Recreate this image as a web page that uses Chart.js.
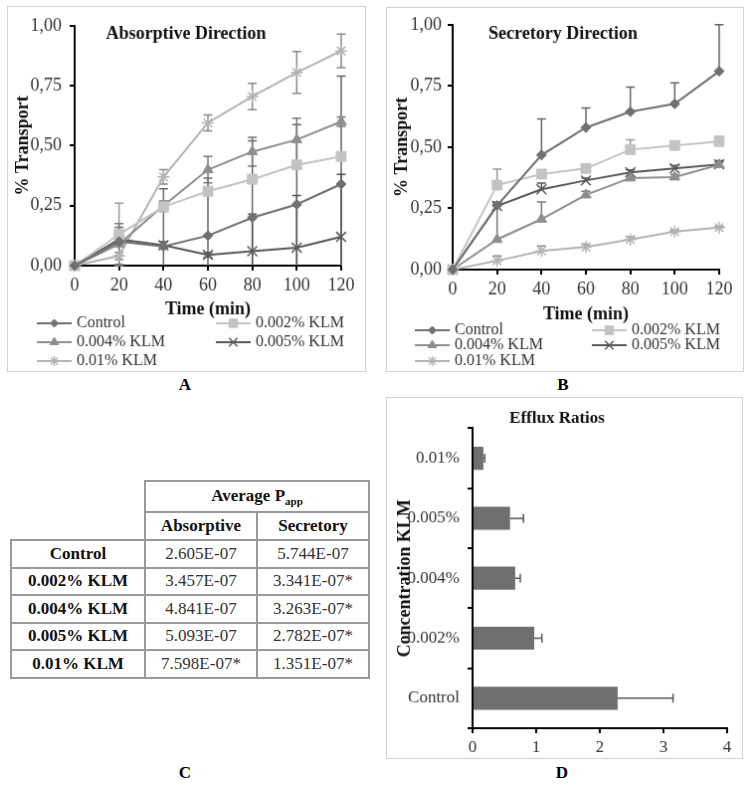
<!DOCTYPE html>
<html>
<head>
<meta charset="utf-8">
<title>KLM transport</title>
<script src="https://cdn.jsdelivr.net/npm/chart.js@4.4.1/dist/chart.umd.min.js"></script>
<style>
  body { margin: 0; background: #fff; font-family: "Liberation Serif", "Times New Roman", serif; }
  canvas { position: absolute; border: 1px solid #d2d2d2; }
  .tag { position: absolute; width: 30px; margin-left: -15px; text-align: center; font-weight: bold; font-size: 17px; line-height: 18px; }
  #papp { position: absolute; left: 10px; top: 480px; border-collapse: collapse; table-layout: fixed; width: 358px; font-size: 17px; color: #333; }
  #papp td, #papp th { border: 2px solid #9a9a9a; text-align: center; padding: 0; }
  #papp th { color: #111; }
  #papp td.lab { font-weight: bold; color: #111; }
  #papp .blank { border: none !important; }
  #papp sub { font-size: 11px; }
</style>
</head>
<body>
<canvas id="chartA" width="359" height="366" style="left:7px;top:6px"></canvas>
<canvas id="chartB" width="358" height="365" style="left:386px;top:7px"></canvas>
<canvas id="chartD" width="357" height="362" style="left:386px;top:397px"></canvas>
<div class="tag" style="left:185px;top:376px">A</div>
<div class="tag" style="left:563px;top:376px">B</div>
<div class="tag" style="left:185px;top:764px">C</div>
<div class="tag" style="left:562px;top:764px">D</div>
<table id="papp"></table>
<script>
const FONT = '"Liberation Serif", "Times New Roman", serif';

// sampling times (min) and series names
const times = [0, 20, 40, 60, 80, 100, 120];
const seriesNames = ['Control', '0.002% KLM', '0.004% KLM', '0.005% KLM', '0.01% KLM'];

// A - absorptive direction, % transport
const absControl = [0, 0.10, 0.08, 0.125, 0.20, 0.255, 0.34];
const absKlm002 = [0, 0.13, 0.245, 0.31, 0.36, 0.42, 0.455];
const absKlm004 = [0, 0.09, 0.25, 0.40, 0.475, 0.525, 0.60];
const absKlm005 = [0, 0.11, 0.085, 0.045, 0.06, 0.075, 0.12];
const absKlm01 = [0, 0.04, 0.37, 0.595, 0.705, 0.805, 0.895];
// A - error (sd)
const absErrControl = [0, 0.06, 0.24, 0.24, 0.32, 0.333, 0.45];
const absErrKlm002 = [0, 0.13, 0.02, 0.01, 0.01, 0.01, 0.01];
const absErrKlm004 = [0, 0.085, 0.02, 0.055, 0.06, 0.09, 0.02];
const absErrKlm005 = [0, 0.01, 0.015, 0.01, 0.155, 0.217, 0.26];
const absErrKlm01 = [0, 0.015, 0.03, 0.033, 0.055, 0.087, 0.07];

// B - secretory direction, % transport
const secControl = [0, 0.262, 0.468, 0.58, 0.645, 0.677, 0.81];
const secKlm002 = [0, 0.345, 0.39, 0.413, 0.49, 0.507, 0.523];
const secKlm004 = [0, 0.123, 0.206, 0.305, 0.374, 0.378, 0.428];
const secKlm005 = [0, 0.26, 0.328, 0.364, 0.397, 0.413, 0.43];
const secKlm01 = [0, 0.036, 0.076, 0.092, 0.123, 0.155, 0.172];
// B - error (sd, plus only)
const secErrControl = [0, 0.01, 0.147, 0.08, 0.10, 0.086, 0.19];
const secErrKlm002 = [0, 0.065, 0.005, 0.005, 0.04, 0.01, 0.02];
const secErrKlm004 = [0, 0.145, 0.07, 0.015, 0.01, 0.01, 0.01];
const secErrKlm005 = [0, 0.015, 0.025, 0.01, 0.01, 0.012, 0.015];
const secErrKlm01 = [0, 0.02, 0.02, 0.012, 0.01, 0.005, 0.005];

// C - average Papp table
const papRows = ['Control', '0.002% KLM', '0.004% KLM', '0.005% KLM', '0.01% KLM'];
const papAbsorptive = ['2.605E-07', '3.457E-07', '4.841E-07', '5.093E-07', '7.598E-07*'];
const papSecretory = ['5.744E-07', '3.341E-07*', '3.263E-07*', '2.782E-07*', '1.351E-07*'];

// D - efflux ratios
const effluxLabels = ['Control', '0.002%', '0.004%', '0.005%', '0.01%'];
const effluxRatio = [2.28, 0.97, 0.67, 0.59, 0.17];
const effluxError = [0.87, 0.12, 0.08, 0.21, 0.02];

const styles = [
  { color: '#707070', err: '#666666', pointStyle: 'rectRot', radius: 5 },
  { color: '#c3c3c3', err: '#9a9a9a', pointStyle: 'rect', radius: 7 },
  { color: '#8e8e8e', err: '#777777', pointStyle: 'triangle', radius: 6 },
  { color: '#595959', err: '#555555', pointStyle: 'crossRot', radius: 7 },
  { color: '#b3b3b3', err: '#8a8a8a', pointStyle: 'star', radius: 6 }
];

function makeSets(valueLists, errLists) {
  return valueLists.map((vals, k) => {
    const st = styles[k];
    const open = st.pointStyle === 'crossRot' || st.pointStyle === 'star';
    return {
      label: seriesNames[k],
      data: times.map((t, i) => ({ x: t, y: vals[i] })),
      errors: errLists[k],
      errorColor: st.err,
      borderColor: st.color,
      backgroundColor: st.color,
      pointBackgroundColor: st.color,
      pointBorderColor: st.color,
      pointStyle: st.pointStyle,
      pointRadius: st.radius,
      pointBorderWidth: open ? 1.5 : 1,
      borderWidth: 2,
      tension: 0,
      clip: false
    };
  });
}

const errorBars = {
  id: 'errorBars',
  beforeDatasetsDraw(chart, args, o) {
    const ctx = chart.ctx;
    const horiz = chart.options.indexAxis === 'y';
    const vScale = horiz ? chart.scales.x : chart.scales.y;
    const c = (o.cap || 8) / 2;
    ctx.save();
    ctx.lineWidth = 1.5;
    chart.data.datasets.forEach((ds, k) => {
      if (!ds.errors) return;
      const meta = chart.getDatasetMeta(k);
      ctx.strokeStyle = ds.errorColor || ds.borderColor;
      meta.data.forEach((el, i) => {
        const e = ds.errors[i];
        if (!e) return;
        const raw = ds.data[i];
        const v = typeof raw === 'object' ? raw.y : raw;
        const ends = o.both ? [v + e, v - e] : [v + e];
        ends.forEach(end => {
          const clipped = end < vScale.min;
          const p = vScale.getPixelForValue(Math.max(end, vScale.min));
          ctx.beginPath();
          if (horiz) {
            ctx.moveTo(el.x, el.y); ctx.lineTo(p, el.y);
            if (!clipped) { ctx.moveTo(p, el.y - c); ctx.lineTo(p, el.y + c); }
          } else {
            ctx.moveTo(el.x, el.y); ctx.lineTo(el.x, p);
            if (!clipped) { ctx.moveTo(el.x - c, p); ctx.lineTo(el.x + c, p); }
          }
          ctx.stroke();
        });
      });
    });
    ctx.restore();
  }
};

const innerTitle = {
  id: 'innerTitle',
  afterDraw(chart, args, o) {
    if (!o.text) return;
    const ctx = chart.ctx;
    ctx.save();
    ctx.font = 'bold 18px ' + FONT;
    ctx.fillStyle = '#111';
    ctx.textAlign = 'center';
    ctx.textBaseline = 'middle';
    ctx.fillText(o.text, o.x, o.y);
    ctx.restore();
  }
};

// two-column legend drawn under the x axis title
const panelLegend = {
  id: 'panelLegend',
  afterDraw(chart, args, o) {
    if (!o.cols) return;
    const ctx = chart.ctx;
    ctx.save();
    chart.data.datasets.forEach((ds, k) => {
      const x = o.cols[k % 2];
      const y = o.rows[Math.floor(k / 2)];
      ctx.strokeStyle = ds.borderColor;
      ctx.lineWidth = 2;
      ctx.beginPath(); ctx.moveTo(x, y); ctx.lineTo(x + o.lineLen, y); ctx.stroke();
      ctx.fillStyle = ds.pointBackgroundColor;
      ctx.strokeStyle = ds.pointBorderColor;
      ctx.lineWidth = ds.pointBorderWidth;
      if (Chart.helpers && Chart.helpers.drawPoint) {
        Chart.helpers.drawPoint(ctx, { pointStyle: ds.pointStyle, radius: ds.pointRadius - 1, rotation: 0, borderWidth: ds.pointBorderWidth }, x + o.lineLen / 2, y);
      }
      ctx.fillStyle = '#333';
      ctx.font = '16px ' + FONT;
      ctx.textAlign = 'left';
      ctx.textBaseline = 'middle';
      ctx.fillText(ds.label, x + o.lineLen + o.gap, y);
    });
    ctx.restore();
  }
};

const axisGrid = { drawOnChartArea: false, color: '#000', lineWidth: 2, tickLength: 5 };
const axisBorder = { color: '#000', width: 2 };
const tickFont = { family: FONT, size: 18 };
const boldFont = { family: FONT, size: 18, weight: 'bold' };

function transportChart(id, sets, geo) {
  return new Chart(document.getElementById(id), {
    type: 'line',
    data: { datasets: sets },
    plugins: [errorBars, innerTitle, panelLegend],
    options: {
      responsive: false,
      animation: false,
      layout: { padding: geo.padding },
      plugins: {
        legend: { display: false },
        tooltip: { enabled: false },
        errorBars: { both: geo.both, cap: 9 },
        innerTitle: { text: geo.title, x: geo.titleX, y: geo.titleY },
        panelLegend: { cols: geo.cols, rows: geo.rows, lineLen: 35, gap: 5 }
      },
      scales: {
        x: {
          type: 'linear', min: 0, max: 120,
          ticks: { stepSize: 20, color: '#333', padding: 4, font: tickFont },
          grid: axisGrid, border: axisBorder,
          title: { display: true, text: 'Time (min)', color: '#111', font: boldFont, padding: { top: 0, bottom: geo.xTitlePad } },
          afterFit: s => { s.height = geo.xHeight; }
        },
        y: {
          min: 0, max: 1,
          ticks: { stepSize: 0.25, color: '#333', padding: geo.yTickPad, font: tickFont,
                   callback: v => v.toFixed(2).replace('.', ',') },
          grid: axisGrid, border: axisBorder,
          title: { display: true, text: '% Transport', color: '#111', font: boldFont, padding: { top: 5, bottom: 0 } },
          afterFit: s => { s.width = geo.yWidth; }
        }
      }
    }
  });
}

transportChart('chartA',
  makeSets([absControl, absKlm002, absKlm004, absKlm005, absKlm01],
           [absErrControl, absErrKlm002, absErrKlm004, absErrKlm005, absErrKlm01]),
  { padding: { top: 10, right: 24, bottom: 51, left: 0 }, xHeight: 55, yWidth: 67, xTitlePad: 0, yTickPad: 8,
    both: true, title: 'Absorptive Direction', titleX: 179, titleY: 27,
    cols: [29, 209], rows: [318, 337, 356] });

transportChart('chartB',
  makeSets([secControl, secKlm002, secKlm004, secKlm005, secKlm01],
           [secErrControl, secErrKlm002, secErrKlm004, secErrKlm005, secErrKlm01]),
  { padding: { top: 11, right: 24, bottom: 46, left: 0 }, xHeight: 56, yWidth: 66, xTitlePad: 0, yTickPad: 6,
    both: false, title: 'Secretory Direction', titleX: 177, titleY: 26,
    cols: [28, 206], rows: [324, 339, 355] });

new Chart(document.getElementById('chartD'), {
  type: 'bar',
  data: {
    labels: effluxLabels,
    datasets: [{
      data: effluxRatio,
      errors: effluxError,
      errorColor: '#555555',
      backgroundColor: '#6f6f6f',
      barPercentage: 0.48,
      categoryPercentage: 0.8
    }]
  },
  plugins: [errorBars],
  options: {
    indexAxis: 'y',
    responsive: false,
    animation: false,
    layout: { padding: { top: 0, right: 15, bottom: 2, left: 0 } },
    plugins: {
      legend: { display: false },
      tooltip: { enabled: false },
      title: { display: true, text: 'Efflux Ratios', color: '#111', font: { family: FONT, size: 17, weight: 'bold' }, padding: { top: 10, bottom: 0 } },
      errorBars: { both: false, cap: 9 }
    },
    scales: {
      x: {
        min: 0, max: 4,
        ticks: { stepSize: 1, color: '#333', padding: 4, font: { family: FONT, size: 17 } },
        grid: axisGrid, border: axisBorder,
        afterFit: s => { s.height = 28; }
      },
      y: {
        reverse: true,
        ticks: { color: '#333', padding: 8, font: { family: FONT, size: 17 } },
        grid: Object.assign({}, axisGrid, { offset: true }), border: axisBorder,
        title: { display: true, text: 'Concentration KLM', color: '#111', font: boldFont, padding: { top: 8, bottom: 0 } },
        afterFit: s => { s.width = 86; }
      }
    }
  }
});

// table C
let html = '<colgroup><col style="width:134px"><col style="width:112px"><col style="width:112px"></colgroup>';
html += '<tr style="height:31px"><th class="blank"></th><th colspan="2">Average P<sub>app</sub></th></tr>';
html += '<tr style="height:28px"><th class="blank"></th><th>Absorptive</th><th>Secretory</th></tr>';
papRows.forEach((r, i) => {
  html += '<tr style="height:27.5px"><td class="lab">' + r + '</td><td>' + papAbsorptive[i] + '</td><td>' + papSecretory[i] + '</td></tr>';
});
document.getElementById('papp').innerHTML = html;
</script>
</body>
</html>
